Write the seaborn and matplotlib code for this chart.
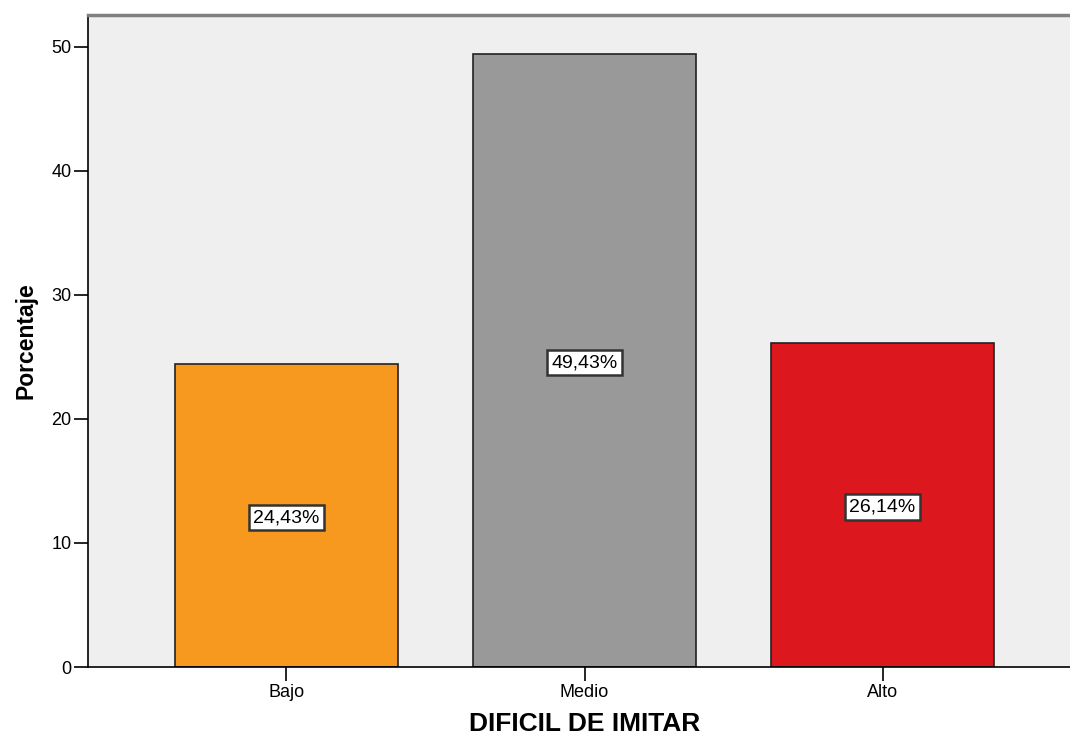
import matplotlib
matplotlib.use("Agg")
import matplotlib.pyplot as plt
import seaborn as sns
import pandas as pd

categories = ["Bajo", "Medio", "Alto"]
values = [24.43, 49.43, 26.14]
labels = ["24,43%", "49,43%", "26,14%"]
colors = ["#F7991F", "#999999", "#DC181E"]

sns.set_style("white")
plt.rcParams['font.family'] = ['Liberation Sans', 'DejaVu Sans']
plt.rcParams['text.color'] = 'black'
plt.rcParams['axes.labelcolor'] = 'black'
plt.rcParams['xtick.color'] = 'black'
plt.rcParams['ytick.color'] = 'black'

df = pd.DataFrame({"cat": categories, "val": values})

fig = plt.figure(figsize=(10.7, 7.35), dpi=100)
ax = fig.add_axes([88/1070, 68/735, (1081 - 88)/1070, (667-15)/735])
ax.set_facecolor("#EFEFEF")

sns.barplot(data=df, x="cat", y="val", hue="cat", palette=colors, order=categories,
            hue_order=categories, width=0.748, edgecolor="#222222", linewidth=1.2,
            legend=False, ax=ax, saturation=1)

for i, (v, lab) in enumerate(zip(values, labels)):
    ax.text(i, v / 2, lab, ha="center", va="center_baseline", fontsize=14, color="black",
            bbox=dict(boxstyle="square,pad=0.22", facecolor="white", edgecolor="#333333", linewidth=1.8))

ax.set_xlim(-0.666, 2.666)
ax.set_ylim(0, 52.58)
ax.set_yticks([0, 10, 20, 30, 40, 50])
ax.tick_params(axis="both", which="both", direction="out", length=10, width=1.2,
               color="black", labelsize=13, labelcolor="black", left=True, bottom=True, pad=2)

for s in ["left", "bottom"]:
    ax.spines[s].set_color("black")
    ax.spines[s].set_linewidth(1.2)
ax.spines["top"].set_color("#808080")
ax.spines["top"].set_linewidth(2.5)
ax.spines["right"].set_visible(False)

ax.set_xlabel("DIFICIL DE IMITAR", fontsize=19, fontweight="bold", labelpad=8, color="black")
ax.set_ylabel("Porcentaje", fontsize=16.5, fontweight="bold", labelpad=10, color="black")

fig.savefig("out.png", dpi=100)
